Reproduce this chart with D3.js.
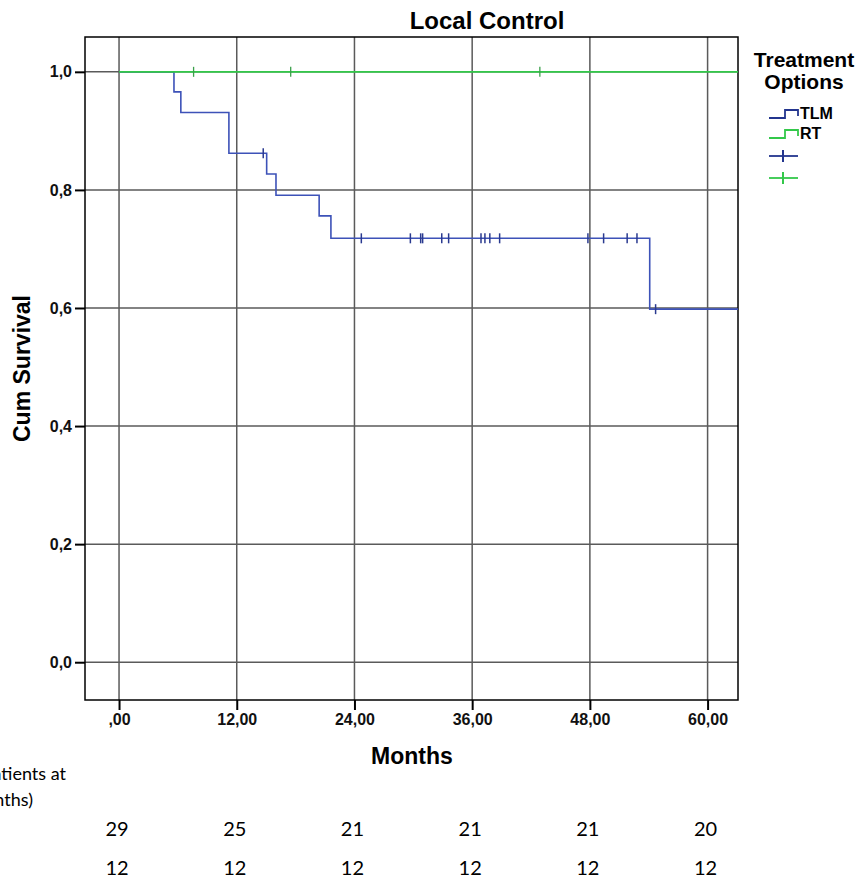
<!DOCTYPE html>
<html>
<head>
<meta charset="utf-8">
<script src="https://cdn.jsdelivr.net/npm/d3@7"></script>
<style>
  body { margin: 0; background: #fff; }
  svg { display: block; }
</style>
</head>
<body>
<div id="vis-container"></div>
<script>
// month ticks and y ticks
const monthTicks = [0, 12, 24, 36, 48, 60];
const survivalTicks = [0, 0.2, 0.4, 0.6, 0.8, 1.0];

// TLM step curve: [month, survival after the step]
const tlmSteps = [
  [0, 1.0], [5.6, 0.966], [6.3, 0.931], [11.2, 0.862], [15.05, 0.827],
  [16.0, 0.791], [20.4, 0.756], [21.6, 0.718], [54.1, 0.598]
];
const tlmCensored = [14.7, 24.7, 29.7, 30.75, 30.95, 32.9, 33.6, 36.9, 37.3, 37.8, 38.8,
  47.8, 49.4, 51.8, 52.8, 54.7];

// RT curve
const rtSteps = [[0, 1.0]];
const rtCensored = [7.6, 17.5, 42.9];

// numbers at risk
const riskTLM = [29, 25, 21, 21, 21, 20];
const riskRT = [12, 12, 12, 12, 12, 12];

const blue = "#3d52b8";
const green = "#33c84a";

drawChart();

function drawChart() {
  const W = 861, H = 879;
  const svg = d3.select("#vis-container")
    .append("svg")
    .attr("width", W)
    .attr("height", H);

  const x = d3.scaleLinear().domain([-3.47, 63.1]).range([85, 738]);
  const y = d3.scaleLinear().domain([-0.064, 1.059]).range([700, 37]);
  const xMax = x.domain()[1];

  const fmtY = d => d3.format(".1f")(d).replace(".", ",");
  const fmtX = d => d === 0 ? ",00" : d3.format(".2f")(d).replace(".", ",");

  // grid lines
  svg.append("g")
    .selectAll("line")
    .data(survivalTicks)
    .join("line")
    .attr("x1", x.range()[0]).attr("x2", x.range()[1])
    .attr("y1", d => y(d)).attr("y2", d => y(d))
    .attr("stroke", "#5a5a5a").attr("stroke-width", 1.5);

  svg.append("g")
    .selectAll("line")
    .data(monthTicks)
    .join("line")
    .attr("x1", d => x(d)).attr("x2", d => x(d))
    .attr("y1", y.range()[1]).attr("y2", y.range()[0])
    .attr("stroke", "#5a5a5a").attr("stroke-width", 1.5);

  // axes
  const yAxis = svg.append("g")
    .attr("transform", `translate(${x.range()[0]},0)`)
    .call(d3.axisLeft(y).tickValues(survivalTicks).tickFormat(fmtY).tickSize(10).tickPadding(3));
  yAxis.select(".domain").remove();
  yAxis.selectAll("line").attr("stroke", "#000").attr("stroke-width", 2);
  yAxis.selectAll("text")
    .style("font-family", "'Liberation Sans', Arial, sans-serif")
    .style("font-size", "16px").style("font-weight", "bold").attr("fill", "#111");

  const xAxis = svg.append("g")
    .attr("transform", `translate(0,${y.range()[0]})`)
    .call(d3.axisBottom(x).tickValues(monthTicks).tickFormat(fmtX).tickSize(10).tickPadding(4));
  xAxis.select(".domain").remove();
  xAxis.selectAll("line").attr("stroke", "#000").attr("stroke-width", 2);
  xAxis.selectAll("text")
    .style("font-family", "'Liberation Sans Narrow', 'Liberation Sans', Arial, sans-serif")
    .style("font-size", "16px").style("font-weight", "bold").attr("fill", "#111");

  // frame
  svg.append("rect")
    .attr("x", x.range()[0]).attr("y", y.range()[1])
    .attr("width", x.range()[1] - x.range()[0])
    .attr("height", y.range()[0] - y.range()[1])
    .attr("fill", "none").attr("stroke", "#000").attr("stroke-width", 1.5);

  // curves
  const line = d3.line().x(d => x(d[0])).y(d => y(d[1])).curve(d3.curveStepAfter);
  const extend = steps => steps.concat([[xMax, steps[steps.length - 1][1]]]);
  const survAt = (steps, t) => {
    let s = steps[0][1];
    for (const [tt, v] of steps) if (tt <= t) s = v;
    return s;
  };

  svg.append("path")
    .datum(extend(tlmSteps))
    .attr("fill", "none").attr("stroke", blue).attr("stroke-width", 1.6)
    .attr("d", line);

  svg.append("g")
    .selectAll("line")
    .data(tlmCensored)
    .join("line")
    .attr("x1", d => x(d)).attr("x2", d => x(d))
    .attr("y1", d => y(survAt(tlmSteps, d)) - 5)
    .attr("y2", d => y(survAt(tlmSteps, d)) + 5)
    .attr("stroke", "#2a3a90").attr("stroke-width", 1.5);

  svg.append("path")
    .datum(extend(rtSteps))
    .attr("fill", "none").attr("stroke", green).attr("stroke-width", 1.8)
    .attr("d", line);

  svg.append("g")
    .selectAll("line")
    .data(rtCensored)
    .join("line")
    .attr("x1", d => x(d)).attr("x2", d => x(d))
    .attr("y1", d => y(survAt(rtSteps, d)) - 5)
    .attr("y2", d => y(survAt(rtSteps, d)) + 5)
    .attr("stroke", "#3aa04a").attr("stroke-width", 1.3);

  // titles
  const arialBold = "'Liberation Sans', Arial, sans-serif";
  svg.append("text")
    .attr("x", 487).attr("y", 29)
    .attr("text-anchor", "middle")
    .style("font-family", arialBold).style("font-size", "24px").style("font-weight", "bold")
    .text("Local Control");

  svg.append("text")
    .attr("x", 412).attr("y", 764)
    .attr("text-anchor", "middle")
    .style("font-family", arialBold).style("font-size", "23px").style("font-weight", "bold")
    .text("Months");

  svg.append("text")
    .attr("transform", `translate(30,${(y.range()[0] + y.range()[1]) / 2}) rotate(-90)`)
    .attr("text-anchor", "middle")
    .style("font-family", arialBold).style("font-size", "23px").style("font-weight", "bold")
    .text("Cum Survival");

  // legend
  const lg = svg.append("g");
  lg.append("text").attr("x", 804).attr("y", 67).attr("text-anchor", "middle")
    .style("font-family", arialBold).style("font-size", "21px").style("font-weight", "bold")
    .text("Treatment");
  lg.append("text").attr("x", 804).attr("y", 89).attr("text-anchor", "middle")
    .style("font-family", arialBold).style("font-size", "21px").style("font-weight", "bold")
    .text("Options");

  const legendItems = [
    { label: "TLM", color: "#23358e", y: 118 },
    { label: "RT", color: green, y: 138 }
  ];
  legendItems.forEach(d => {
    lg.append("path")
      .attr("d", `M769,${d.y} H785 V${d.y - 8} H798 V${d.y - 2}`)
      .attr("fill", "none").attr("stroke", d.color).attr("stroke-width", 1.8);
    lg.append("text").attr("x", 800).attr("y", d.y + 1)
      .style("font-family", arialBold).style("font-size", "16px").style("font-weight", "bold")
      .text(d.label);
  });

  const censorItems = [
    { color: "#23358e", y: 156 },
    { color: green, y: 178 }
  ];
  censorItems.forEach(d => {
    lg.append("line").attr("x1", 769).attr("x2", 798).attr("y1", d.y).attr("y2", d.y)
      .attr("stroke", d.color).attr("stroke-width", 1.8);
    lg.append("line").attr("x1", 783).attr("x2", 783).attr("y1", d.y - 6).attr("y2", d.y + 6)
      .attr("stroke", d.color).attr("stroke-width", 2);
  });

  // numbers at risk (label is cut at the left edge, as in the source figure)
  const calibri = "Lato, 'Open Sans', sans-serif";
  svg.append("text").attr("x", 66).attr("y", 780).attr("text-anchor", "end")
    .style("font-family", calibri).style("font-size", "18px")
    .text("Number of patients at");
  svg.append("text").attr("x", 33).attr("y", 806).attr("text-anchor", "end")
    .style("font-family", calibri).style("font-size", "18px")
    .text("risk (months)");

  [[riskTLM, 836], [riskRT, 875]].forEach(([vals, yy]) => {
    svg.append("g")
      .selectAll("text")
      .data(vals)
      .join("text")
      .attr("x", (d, i) => x(monthTicks[i]) - 2)
      .attr("y", yy)
      .attr("text-anchor", "middle")
      .style("font-family", calibri).style("font-size", "20px")
      .text(d => d);
  });
}
</script>
</body>
</html>
